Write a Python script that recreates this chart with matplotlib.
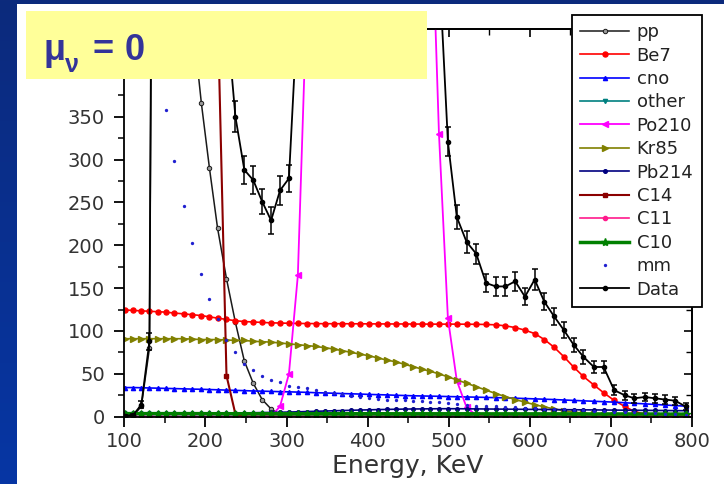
import numpy as np
import matplotlib
matplotlib.use("Agg")
import matplotlib.pyplot as plt
from matplotlib.patches import Rectangle
from matplotlib.lines import Line2D
from matplotlib.ticker import MultipleLocator, FixedLocator, FixedFormatter
from matplotlib.colors import LinearSegmentedColormap

# ---------------- data ----------------
energy = [101, 111, 121, 131, 141, 151, 161, 173, 184, 195,
          205, 215, 226, 237, 248, 259, 270, 281, 292, 303,
          314, 325, 336, 347, 358, 369, 380, 391, 402, 413,
          424, 435, 446, 456, 467, 477, 488, 499, 510, 522,
          534, 546, 558, 570, 582, 594, 606, 618, 630, 642,
          654, 666, 679, 691, 704, 717, 729, 742, 754, 767,
          779, 792]

pp = [0, 1, 12, 80, 1800, 3200, 3500, 2400, 465, 366,
      290, 220, 161, 110, 65, 39, 20, 9, 2.5, 0.5,
      0, 0, 0, 0, 0, 0, 0, 0, 0, 0,
      0, 0, 0, 0, 0, 0, 0, 0, 0, 0,
      0, 0, 0, 0, 0, 0, 0, 0, 0, 0,
      0, 0, 0, 0, 0, 0, 0, 0, 0, 0,
      0, 0]

be7 = [124.5, 124, 123.5, 123, 122.5, 122, 121, 120, 119, 118,
       116.5, 115, 113.5, 112, 111, 110.5, 110, 109.5, 109.3, 109,
       108.8, 108.7, 108.6, 108.5, 108.5, 108.5, 108.4, 108.4, 108.3, 108.3,
       108.2, 108.2, 108.2, 108.1, 108.1, 108, 108, 108, 108, 107.9,
       107.8, 107.6, 107.2, 106, 104, 101, 97, 90, 81, 70,
       58, 47, 37, 28, 19, 12, 6, 3, 1.5, 0.5,
       0.2, 0.1]

cno = [34, 34, 33.8, 33.5, 33.3, 33, 32.8, 32.5, 32.2, 32,
       31.7, 31.4, 31, 30.7, 30.4, 30, 29.8, 29.5, 29.2, 29,
       28.7, 28.4, 28, 27.7, 27.4, 27, 26.7, 26.4, 26, 25.7,
       25.4, 25, 24.7, 24.4, 24.2, 24, 23.8, 23.5, 23.3, 23,
       22.8, 22.5, 22.2, 22, 21.6, 21.2, 20.8, 20.4, 20, 19.5,
       19, 18.5, 18, 17.5, 17, 16.3, 15.6, 15, 14.3, 13.6,
       13, 12.3]

other = [2.6, 2.6, 2.6, 2.6, 2.5, 2.5, 2.5, 2.5, 2.5, 2.5,
         2.5, 2.4, 2.4, 2.4, 2.4, 2.4, 2.3, 2.3, 2.3, 2.3,
         2.3, 2.2, 2.2, 2.2, 2.2, 2.2, 2.1, 2.1, 2.1, 2.1,
         2.1, 2.0, 2.0, 2.0, 2.0, 2.0, 1.9, 1.9, 1.9, 1.9,
         1.9, 1.8, 1.8, 1.8, 1.8, 1.8, 1.7, 1.7, 1.7, 1.7,
         1.7, 1.6, 1.6, 1.6, 1.6, 1.5, 1.5, 1.5, 1.5, 1.4,
         1.4, 1.4]

po210 = [0, 0, 0, 0, 0, 0, 0, 0, 0, 0,
         0, 0, 0, 0, 0, 0, 0, 0.5, 12, 50,
         165, 490, 1400, 3200, 5800, 8500, 10500, 11500, 11800, 11000,
         9200, 7000, 4800, 2900, 1500, 650, 330, 115, 42, 11,
         1.5, 0.2, 0, 0, 0, 0, 0, 0, 0, 0,
         0, 0, 0, 0, 0, 0, 0, 0, 0, 0,
         0, 0]

kr85 = [91, 91, 91, 91, 91, 91, 91, 91, 90.5, 90,
        90, 90, 89.5, 89, 89, 88, 87.5, 87, 86, 85,
        84, 83, 82, 80.5, 79, 77, 75, 73, 71, 68.5,
        66, 64, 61, 58.5, 55.5, 53, 50, 46.5, 43, 39,
        35, 31, 27, 23.5, 20, 17, 14, 11.5, 9, 7,
        5.5, 4, 3, 2, 1.5, 1, 0.7, 0.5, 0.3, 0.2,
        0.1, 0.1]

pb214 = [4, 4, 4, 4, 4, 4, 4, 4, 4, 4,
         4, 4, 4, 4.2, 4.4, 4.6, 4.8, 5, 5.2, 5.4,
         5.7, 6, 6.3, 6.6, 6.9, 7.2, 7.5, 7.8, 8, 8.3,
         8.5, 8.7, 8.9, 9, 9.1, 9.2, 9.3, 9.3, 9.3, 9.2,
         9.1, 9, 8.9, 8.8, 8.7, 8.6, 8.5, 8.4, 8.3, 8.2,
         8.1, 8, 7.9, 7.8, 7.7, 7.6, 7.5, 7.4, 7.3, 7.2,
         7.1, 7]

c14 = [60000, 48000, 37000, 28000, 20000, 14000, 9500, 6000, 3600, 1900,
       900, 480, 48, 3, 0.2, 0, 0, 0, 0, 0,
       0, 0, 0, 0, 0, 0, 0, 0, 0, 0,
       0, 0, 0, 0, 0, 0, 0, 0, 0, 0,
       0, 0, 0, 0, 0, 0, 0, 0, 0, 0,
       0, 0, 0, 0, 0, 0, 0, 0, 0, 0,
       0, 0]

c11 = [0, 0, 0, 0, 0, 0, 0, 0, 0, 0,
       0, 0, 0, 0, 0, 0, 0, 0, 0, 0,
       0, 0, 0, 0, 0, 0, 0, 0, 0, 0,
       0, 0, 0, 0, 0, 0, 0, 0, 0, 0,
       0, 0, 0, 0, 0, 0, 0, 0, 0, 0,
       0.1, 0.1, 0.2, 0.2, 0.3, 0.4, 0.5, 0.6, 0.7, 0.8,
       0.9, 1.0]

c10 = [3.6, 3.6, 3.6, 3.6, 3.6, 3.6, 3.6, 3.6, 3.6, 3.6,
       3.5, 3.5, 3.5, 3.5, 3.5, 3.5, 3.5, 3.5, 3.5, 3.5,
       3.5, 3.5, 3.5, 3.5, 3.5, 3.5, 3.5, 3.5, 3.5, 3.5,
       3.4, 3.4, 3.4, 3.4, 3.4, 3.4, 3.4, 3.4, 3.4, 3.4,
       3.3, 3.3, 3.3, 3.3, 3.3, 3.3, 3.3, 3.3, 3.3, 3.3,
       3.2, 3.2, 3.2, 3.2, 3.2, 3.2, 3.1, 3.1, 3.1, 3.0,
       3.0, 3.0]

mm = [900, 780, 670, 570, 470, 358, 298, 246, 203, 166,
      137, 114, 90, 75, 62, 54, 48, 43, 40, 36,
      35, 33, 31, 29, 27.5, 26, 24.5, 23, 22, 21,
      20, 19.5, 19, 18.5, 18, 17.5, 17, 16, 15, 14,
      13, 12.5, 12, 11.5, 11, 10.5, 10, 9.5, 9, 8.5,
      8, 7.5, 7, 6.5, 6, 5.5, 5, 4.5, 4, 3.5,
      3, 2.5]

data = [1, 2, 14, 88, 1900, 4200, 6500, 7500, 6200, 4300,
        2500, 1200, 470, 350, 288, 276, 251, 229, 264, 278,
        480, 1100, 2300, 4200, 6600, 8900, 10500, 11300, 11500, 10800,
        9300, 7300, 5200, 3400, 2000, 1100, 530, 321, 233, 204,
        190, 156, 152, 152, 158, 140, 160, 134, 117, 101,
        84, 70, 58, 58, 31, 25, 21.5, 23, 21.5, 20,
        18.7, 12]

data_err = [1, 1.5, 4, 10, 40, 60, 75, 80, 75, 60,
            45, 32, 20, 18, 16, 16, 15, 16, 17, 16,
            20, 30, 45, 60, 75, 88, 95, 98, 99, 95,
            88, 78, 66, 54, 42, 30, 20, 17, 14, 13,
            12, 11, 11, 11, 11, 10, 12, 10, 10, 9,
            8, 8, 7, 7, 6, 5, 5, 5, 5, 5,
            4.5, 4.5]

x_major_ticks = [100, 200, 300, 400, 500, 600, 700, 800]
y_major_ticks = [0, 50, 100, 150, 200, 250, 300, 350, 400, 450]
# the two top labels sit under the title banner, so they are left blank
y_tick_labels = ['0', '50', '100', '150', '200', '250', '300', '350', '', '']

# ---------------- figure ----------------
W, H, DPI = 724, 484, 100
plt.rcParams['font.family'] = ['DejaVu Sans']
fig = plt.figure(figsize=(W / DPI, H / DPI), dpi=DPI)

# slide background: blue gradient with a white panel
bg = fig.add_axes([0, 0, 1, 1], zorder=-10)
bg.set_axis_off()
grad = np.linspace(0, 1, 256)[:, None]
cmap = LinearSegmentedColormap.from_list('slide', ['#0c2a7c', '#0636a4'])
bg.imshow(grad, aspect='auto', cmap=cmap, extent=[0, 1, 0, 1], origin='upper')
bg.add_patch(Rectangle((17 / W, 0), 1 - 17 / W, 1 - 4 / H,
                       transform=bg.transAxes, color='white', lw=0))
bg.set_xlim(0, 1)
bg.set_ylim(0, 1)

ax = fig.add_axes([124.3 / W, 1 - 416.7 / H, (692 - 124.3) / W, (416.7 - 29.3) / H])
ax.set_xlim(100, 800)
ax.set_ylim(0, 452)

series = [
    ('pp', pp, dict(color='#1a1a1a', lw=1.1, marker='o', ms=3.2, mfc='#9a9a9a', mec='#1a1a1a', mew=0.7)),
    ('Be7', be7, dict(color='#ff0000', lw=1.2, marker='o', ms=3.6)),
    ('cno', cno, dict(color='#0000ff', lw=1.2, marker='^', ms=3.0)),
    ('other', other, dict(color='#008080', lw=1.2, marker='v', ms=3.0)),
    ('Po210', po210, dict(color='#ff00ff', lw=1.3, marker='<', ms=4.0)),
    ('Kr85', kr85, dict(color='#808000', lw=1.2, marker='>', ms=4.2)),
    ('Pb214', pb214, dict(color='#000080', lw=1.2, marker='o', ms=2.6)),
    ('C14', c14, dict(color='#8b0000', lw=1.5, marker='s', ms=3.0)),
    ('C11', c11, dict(color='#ff1a8c', lw=1.2, marker='o', ms=3.0)),
    ('C10', c10, dict(color='#008000', lw=2.5, marker='*', ms=6.0)),
]

handles = []
labels = []
for name, vals, st in series:
    ax.plot(energy, vals, **st)
    handles.append(Line2D([], [], **st))
    labels.append(name)

mm_style = dict(color='#2020d0', ls='none', marker='o', ms=2.4, mew=0)
ax.plot(energy, mm, **mm_style)
handles.append(Line2D([], [], **mm_style))
labels.append('mm')

data_style = dict(color='black', lw=1.3, marker='o', ms=3.0)
ax.errorbar(energy, data, yerr=data_err, fmt='-o', color='black', lw=1.3, ms=3.0,
            elinewidth=1.1, capsize=2.5, capthick=1.1)
handles.append(Line2D([], [], **data_style))
labels.append('Data')

# axes styling
for sp in ax.spines.values():
    sp.set_linewidth(1.3)
ax.xaxis.set_major_locator(FixedLocator(x_major_ticks))
ax.xaxis.set_minor_locator(MultipleLocator(50))
ax.yaxis.set_major_locator(FixedLocator(y_major_ticks))
ax.yaxis.set_major_formatter(FixedFormatter(y_tick_labels))
ax.yaxis.set_minor_locator(MultipleLocator(25))
ax.tick_params(which='major', direction='out', length=7, width=1.3,
               labelsize=14, labelcolor='#333333', pad=4)
ax.tick_params(axis='y', which='major', pad=7)
ax.tick_params(which='minor', direction='out', length=4, width=1.1)
ax.set_xlabel('Energy, KeV', fontsize=18, color='#333333', labelpad=2)

secx = ax.secondary_xaxis('top')
secx.set_xticks(x_major_ticks)
secx.xaxis.set_minor_locator(MultipleLocator(50))
secx.tick_params(which='major', direction='in', length=6, width=1.2, labeltop=False)
secx.tick_params(which='minor', direction='in', length=4, width=1.0)
secx.spines['top'].set_linewidth(1.3)

secy = ax.secondary_yaxis('right')
secy.set_yticks(y_major_ticks)
secy.yaxis.set_minor_locator(MultipleLocator(25))
secy.tick_params(which='major', direction='in', length=6, width=1.2, labelright=False)
secy.tick_params(which='minor', direction='in', length=4, width=1.0)
secy.spines['right'].set_linewidth(1.3)

leg = fig.legend(handles, labels, loc='upper left',
                 bbox_to_anchor=(571.7 / W, 1 - 15 / H), bbox_transform=fig.transFigure,
                 frameon=True, fancybox=False, edgecolor='black', framealpha=1,
                 fontsize=13, handlelength=2.75, handletextpad=0.4,
                 labelspacing=0.3, borderpad=0.45, borderaxespad=0, numpoints=1)
leg.get_frame().set_linewidth(1.3)
for t in leg.get_texts():
    t.set_color('#222222')

# title banner
fig.add_artist(Rectangle((25.7 / W, 1 - 79.3 / H), 401.3 / W, 68.6 / H,
                         transform=fig.transFigure, facecolor='#ffff99', lw=0, zorder=10))
title_kw = dict(color='#333399', fontweight='bold', family=['Liberation Sans', 'DejaVu Sans'],
                va='baseline', ha='left', zorder=11)
fig.text(43 / W, 1 - 60 / H, '\u03bc', fontsize=26, **title_kw)
fig.text(65 / W, 1 - 72 / H, '\u03bd', fontsize=18, **title_kw)
fig.text(93 / W, 1 - 60 / H, '=', fontsize=26, **title_kw)
fig.text(125 / W, 1 - 60 / H, '0', fontsize=26, **title_kw)

fig.savefig('out.png', dpi=DPI)
